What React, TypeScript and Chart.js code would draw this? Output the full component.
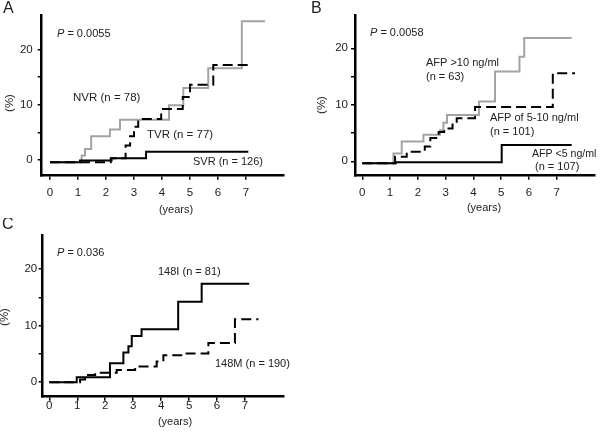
import React, { useEffect, useRef } from "react";
import { Chart, registerables } from "chart.js";

Chart.register(...registerables);

const FONT = "'Liberation Sans', Arial, Helvetica, sans-serif";

// Shared tick values
const yearTicks = [0, 1, 2, 3, 4, 5, 6, 7];
const pctTicks = [0, 5, 10, 15, 20];
const pctLabelled = [0, 10, 20];

// Panel A
const nvrYears = [0, 1.13, 1.25, 1.47, 2.14, 2.5, 4.25, 4.76, 5.65, 6.85, 7.68];
const nvrPct = [-0.4, 0.8, 2.0, 4.3, 5.5, 7.3, 9.9, 13.0, 16.6, 25.1, 25.1];
const tvrYears = [0, 2.17, 2.7, 2.86, 3.0, 3.15, 3.97, 4.74, 5.0, 5.83, 7.14];
const tvrPct = [-0.4, 0.3, 2.6, 4.3, 6.0, 7.4, 9.2, 11.4, 13.6, 17.2, 17.2];
const svrYears = [0, 1.07, 2.2, 3.43, 7.08];
const svrPct = [-0.4, -0.1, 0.3, 1.5, 1.5];

// Panel B
const afpHighYears = [0, 1.12, 1.42, 2.2, 2.8, 2.92, 3.05, 4.2, 4.78, 5.66, 5.83, 7.54];
const afpHighPct = [-0.35, 1.4, 3.5, 4.7, 5.5, 6.8, 8.2, 10.6, 15.9, 18.5, 21.8, 21.8];
const afpMidYears = [0, 1.18, 1.6, 2.25, 2.45, 2.75, 2.95, 3.25, 3.4, 4.06, 6.86, 7.66];
const afpMidPct = [-0.35, 0.8, 1.7, 2.6, 4.1, 5.2, 5.8, 7.0, 7.6, 9.6, 15.6, 15.6];
const afpLowYears = [0, 1.2, 5.02, 7.54];
const afpLowPct = [-0.35, -0.15, 2.9, 2.9];

// Panel C
const i148Years = [0, 0.98, 2.17, 2.65, 2.83, 2.95, 3.3, 4.61, 5.45, 7.15];
const i148Pct = [-0.1, 0.8, 3.3, 5.2, 6.3, 8.1, 9.3, 14.2, 17.4, 17.4];
const m148Years = [0, 1.1, 1.28, 1.64, 2.41, 3.07, 3.84, 4.08, 4.79, 5.69, 6.64, 7.48];
const m148Pct = [-0.1, 0.4, 1.2, 1.6, 2.1, 2.7, 3.6, 4.7, 5.0, 6.9, 11.1, 11.1];

// Text
const panelLetters = ["A", "B", "C"];
const pValues = ["0.0055", "0.0058", "0.036"];
const xTitle = "(years)";
const yTitle = "(%)";
const labelsA = ["NVR (n = 78)", "TVR (n = 77)", "SVR (n = 126)"];
const labelsB = ["AFP >10 ng/ml", "(n = 63)", "AFP of 5-10 ng/ml", "(n = 101)", "AFP <5 ng/ml", "(n = 107)"];
const labelsC = ["148I (n = 81)", "148M (n = 190)"];

type Series = { xs: number[]; ys: number[]; color: string; dash: number[] };
type TextItem = { text: string; x: number; y: number; kind?: "p" | "rot" | "center" | "letter"; size?: number };

type PanelProps = {
  left: number;
  top: number;
  w: number;
  h: number;
  area: { l: number; r: number; t: number; b: number };
  xr: [number, number];
  yr: [number, number];
  xPad: number;
  yPad: number;
  series: Series[];
  texts: TextItem[];
};

const BLACK = "#000";
const GRAY = "#a3a3a3";
const TEXT = "#222";

function Panel(props: PanelProps) {
  const ref = useRef<HTMLCanvasElement | null>(null);
  useEffect(() => {
    const { w, h, area, xr, yr, series, texts, xPad, yPad } = props;
    const textPlugin = {
      id: "texts",
      afterDraw(chart: any) {
        const ctx = chart.ctx as CanvasRenderingContext2D;
        ctx.save();
        ctx.fillStyle = TEXT;
        ctx.textBaseline = "middle";
        for (const t of texts) {
          const size = t.size ?? 11.5;
          if (t.kind === "letter") {
            ctx.font = `16px ${FONT}`;
            ctx.textAlign = "left";
            ctx.fillText(t.text, t.x, t.y);
          } else if (t.kind === "rot") {
            ctx.save();
            ctx.font = `${size}px ${FONT}`;
            ctx.translate(t.x, t.y);
            ctx.rotate(-Math.PI / 2);
            ctx.textAlign = "center";
            ctx.fillText(t.text, 0, 0);
            ctx.restore();
          } else if (t.kind === "center") {
            ctx.font = `${size}px ${FONT}`;
            ctx.textAlign = "center";
            ctx.fillText(t.text, t.x, t.y);
          } else if (t.kind === "p") {
            ctx.textAlign = "left";
            ctx.font = `italic ${size}px ${FONT}`;
            ctx.fillText("P", t.x, t.y);
            const pw = ctx.measureText("P").width;
            ctx.font = `${size}px ${FONT}`;
            ctx.fillText(" = " + t.text, t.x + pw, t.y);
          } else {
            ctx.font = `${size}px ${FONT}`;
            ctx.textAlign = "left";
            ctx.fillText(t.text, t.x, t.y);
          }
        }
        ctx.restore();
      },
    };
    const tickFont = { family: FONT, size: 11.5 };
    const chart = new Chart(ref.current as HTMLCanvasElement, {
      type: "line",
      data: {
        datasets: series.map((s) => ({
          data: s.xs.map((x, i) => ({ x, y: s.ys[i] })),
          stepped: "before" as const,
          borderColor: s.color,
          borderWidth: 2,
          borderDash: s.dash,
          pointRadius: 0,
          fill: false,
          tension: 0,
        })),
      },
      options: {
        animation: false,
        responsive: false,
        devicePixelRatio: 1,
        layout: {
          autoPadding: false,
          padding: { left: 0, top: area.t, right: w - area.r, bottom: 0 },
        },
        plugins: {
          legend: { display: false },
          tooltip: { enabled: false },
        },
        scales: {
          x: {
            type: "linear",
            min: xr[0],
            max: xr[1],
            afterBuildTicks: (s: any) => {
              s.ticks = yearTicks.map((v) => ({ value: v }));
            },
            afterFit: (s: any) => {
              s.height = h - area.b;
            },
            grid: { drawOnChartArea: false, drawTicks: true, tickLength: 4, color: BLACK, lineWidth: 1.5 },
            border: { display: true, color: BLACK, width: 2.5 },
            ticks: {
              color: TEXT,
              font: tickFont,
              padding: xPad,
              maxRotation: 0,
              autoSkip: false,
              callback: (v: any) => String(v),
            },
          },
          y: {
            type: "linear",
            min: yr[0],
            max: yr[1],
            afterBuildTicks: (s: any) => {
              s.ticks = pctTicks.map((v) => ({ value: v }));
            },
            afterFit: (s: any) => {
              s.width = area.l;
            },
            grid: { drawOnChartArea: false, drawTicks: true, tickLength: 4, color: BLACK, lineWidth: 1.5 },
            border: { display: true, color: BLACK, width: 2.5 },
            ticks: {
              color: TEXT,
              font: tickFont,
              padding: yPad,
              autoSkip: false,
              callback: (v: any) => (pctLabelled.includes(Number(v)) ? String(v) : ""),
            },
          },
        },
      } as any,
      plugins: [textPlugin],
    });
    return () => chart.destroy();
  }, []);
  return (
    <canvas
      ref={ref}
      width={props.w}
      height={props.h}
      style={{ position: "absolute", left: props.left, top: props.top, width: props.w, height: props.h }}
    />
  );
}

export default function App() {
  const seriesA: Series[] = [
    { xs: svrYears, ys: svrPct, color: BLACK, dash: [] },
    { xs: tvrYears, ys: tvrPct, color: BLACK, dash: [10, 5] },
    { xs: nvrYears, ys: nvrPct, color: GRAY, dash: [] },
  ];
  const seriesB: Series[] = [
    { xs: afpLowYears, ys: afpLowPct, color: BLACK, dash: [] },
    { xs: afpMidYears, ys: afpMidPct, color: BLACK, dash: [10, 5] },
    { xs: afpHighYears, ys: afpHighPct, color: GRAY, dash: [] },
  ];
  const seriesC: Series[] = [
    { xs: i148Years, ys: i148Pct, color: BLACK, dash: [] },
    { xs: m148Years, ys: m148Pct, color: BLACK, dash: [10, 5] },
  ];
  const textsA: TextItem[] = [
    { text: panelLetters[0], x: 3, y: 9, kind: "letter" },
    { text: pValues[0], x: 57, y: 34, kind: "p", size: 11 },
    { text: labelsA[0], x: 73, y: 98 },
    { text: labelsA[1], x: 147, y: 135 },
    { text: labelsA[2], x: 193, y: 162, size: 11 },
    { text: yTitle, x: 10, y: 103, kind: "rot" },
    { text: xTitle, x: 176, y: 210, kind: "center", size: 11 },
  ];
  const textsB: TextItem[] = [
    { text: panelLetters[1], x: 11, y: 9, kind: "letter" },
    { text: pValues[1], x: 70, y: 33, kind: "p", size: 11 },
    { text: labelsB[0], x: 126, y: 63, size: 11 },
    { text: labelsB[1], x: 126, y: 77, size: 11 },
    { text: labelsB[2], x: 190, y: 118, size: 11 },
    { text: labelsB[3], x: 190, y: 132, size: 11 },
    { text: labelsB[4], x: 232, y: 154, size: 10.6 },
    { text: labelsB[5], x: 235, y: 167, size: 11 },
    { text: yTitle, x: 22, y: 105, kind: "rot" },
    { text: xTitle, x: 184, y: 208, kind: "center", size: 11 },
  ];
  const textsC: TextItem[] = [
    { text: panelLetters[2], x: 2, y: 7, kind: "letter" },
    { text: pValues[2], x: 57, y: 35, kind: "p", size: 11 },
    { text: labelsC[0], x: 158, y: 54, size: 11 },
    { text: labelsC[1], x: 215, y: 146, size: 11 },
    { text: yTitle, x: 5, y: 99, kind: "rot" },
    { text: xTitle, x: 175, y: 204, kind: "center", size: 11 },
  ];
  return (
    <div style={{ position: "absolute", left: 0, top: 0, width: 600, height: 438, background: "#fff", overflow: "hidden" }}>
      <Panel left={0} top={0} w={300} h={220} area={{ l: 41.7, r: 283.3, t: 15, b: 175.7 }} xr={[-0.296, 8.33]} yr={[-2.84, 26.22]} xPad={6} yPad={5} series={seriesA} texts={textsA} />
      <Panel left={300} top={0} w={300} h={220} area={{ l: 55, r: 295, t: 15, b: 175.7 }} xr={[-0.263, 8.38]} yr={[-2.55, 25.89]} xPad={6} yPad={3} series={seriesB} texts={textsB} />
      <Panel left={0} top={218} w={300} h={220} area={{ l: 42.7, r: 283.3, t: 17, b: 178.7 }} xr={[-0.236, 8.37]} yr={[-2.66, 26.06]} xPad={-2} yPad={1.5} series={seriesC} texts={textsC} />
    </div>
  );
}
